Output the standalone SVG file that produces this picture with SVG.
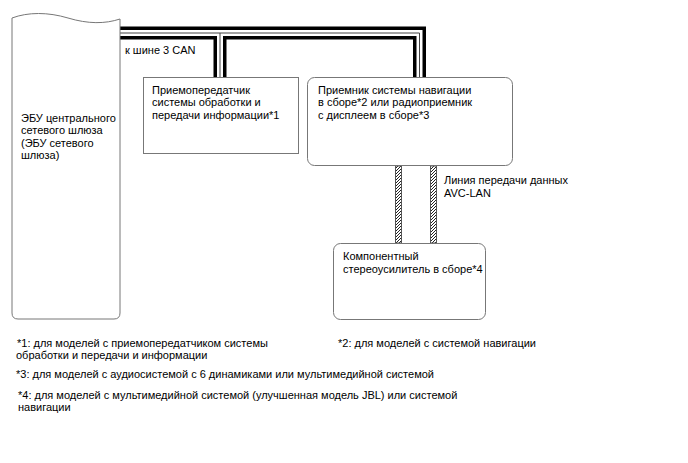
<svg xmlns="http://www.w3.org/2000/svg" width="688" height="463" viewBox="0 0 688 463">
<style>
.box{fill:#fff;stroke:#777;stroke-width:1}
text{font-family:"Liberation Sans",Arial,sans-serif;font-size:11px;fill:#000}
.hatch{fill:url(#hp);stroke:#555;stroke-width:1}
</style>
<defs>
<pattern id="hp" patternUnits="userSpaceOnUse" width="3" height="3">
<rect width="3" height="3" fill="#fff"/>
<path d="M-1,4 L4,-1 M-1,1 L1,-1 M2,4 L4,2" stroke="#222" stroke-width="1"/>
</pattern>
</defs>
<rect width="688" height="463" fill="#fff"/>
<g id="connectors">
<path d="M120,33 H419.5 V77 M220,33 V77" fill="none" stroke="#000" stroke-width="13" stroke-linejoin="miter"/>
<path d="M120,33 H419.5 V77 M220,33 V77" fill="none" stroke="#fff" stroke-width="6" stroke-linejoin="miter"/>
<path d="M120,33 H419.5 V77 M220,33 V77" fill="none" stroke="#444" stroke-width="1"/>
<rect class="hatch" x="395.5" y="166" width="6" height="77"/>
<rect class="hatch" x="430.5" y="166" width="6" height="77"/>
<text x="125" y="54">к шине 3 CAN</text>
<text x="444" y="183.5">Линия передачи данных</text>
<text x="444" y="196.5">AVC-LAN</text>
</g>
<g id="ecu">
<path class="box" d="M12,18 C28,12 48,12 68,18 S105,24 120,19 V313 Q120,319 114,319 H18 Q12,319 12,313 Z"/>
<text x="21" y="121.5">ЭБУ центрального</text>
<text x="21" y="134">сетевого шлюза</text>
<text x="21" y="146.5">(ЭБУ сетевого</text>
<text x="21" y="159">шлюза)</text>
</g>
<g id="transceiver">
<rect class="box" x="143.5" y="77.5" width="155" height="76"/>
<text x="152" y="93.5">Приемопередатчик</text>
<text x="152" y="106">системы обработки и</text>
<text x="152" y="118.5">передачи информации*1</text>
</g>
<g id="nav">
<rect class="box" x="307.5" y="77.5" width="205" height="88" rx="7"/>
<text x="318" y="93.5">Приемник системы навигации</text>
<text x="318" y="106">в сборе*2 или радиоприемник</text>
<text x="318" y="118.5">с дисплеем в сборе*3</text>
</g>
<g id="amp">
<rect class="box" x="333.5" y="243.5" width="152" height="76" rx="7"/>
<text x="343" y="260">Компонентный</text>
<text x="343" y="272.5">стереоусилитель в сборе*4</text>
</g>
<g id="notes">
<text x="17" y="347">*1: для моделей с приемопередатчиком системы</text>
<text x="16" y="359">обработки и передачи и информации</text>
<text x="338" y="347">*2: для моделей с системой навигации</text>
<text x="16" y="378">*3: для моделей с аудиосистемой с 6 динамиками или мультимедийной системой</text>
<text x="18" y="399">*4: для моделей с мультимедийной системой (улучшенная модель JBL) или системой</text>
<text x="18" y="411">навигации</text>
</g>
</svg>
